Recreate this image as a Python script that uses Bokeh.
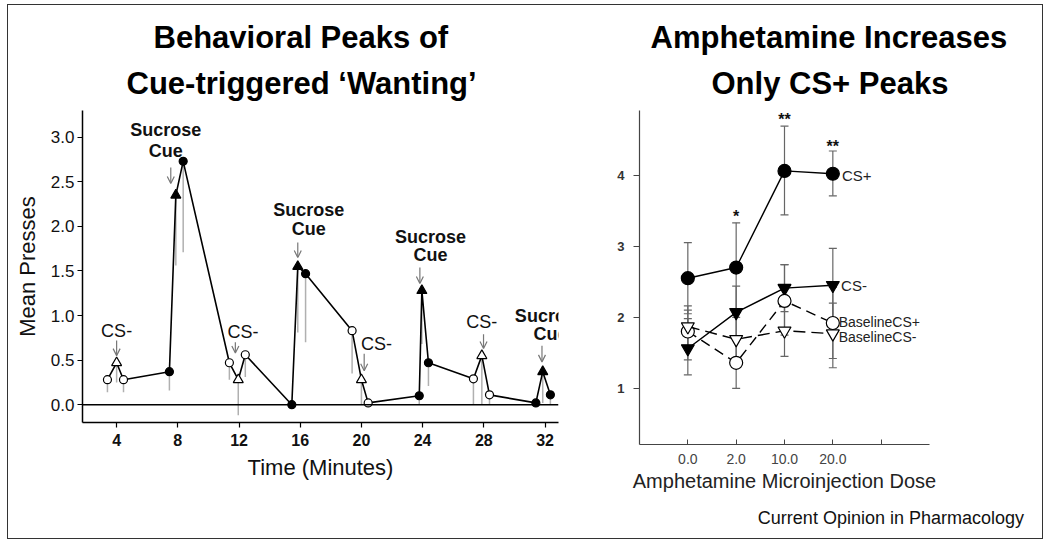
from bokeh.plotting import figure
from bokeh.models import (Label, Arrow, OpenHead, Span, FixedTicker, Whisker, TeeHead,
                          ColumnDataSource, Range1d, Title, Div)
from bokeh.layouts import row, column
from bokeh.embed import file_html
from bokeh.resources import INLINE
from bokeh.core.properties import field

FONT = "Liberation Sans"

# ---------------- Left panel data ----------------
times = [3.4, 4.0, 4.45, 7.45, 7.87, 8.35, 11.37, 11.95, 12.41, 15.45, 15.84, 16.35,
         19.39, 20.0, 20.44, 23.78, 23.95, 24.38, 27.32, 27.87, 28.37, 31.4, 31.85, 32.35]
presses = [0.28, 0.47, 0.28, 0.37, 2.35, 2.73, 0.47, 0.28, 0.56, 0.0, 1.55, 1.47,
           0.83, 0.28, 0.02, 0.10, 1.28, 0.47, 0.29, 0.55, 0.11, 0.02, 0.37, 0.11]
presses_err_low = [0.14, 0.25, 0.14, 0.16, 1.56, 1.71, 0.28, -0.12, 0.31, 0.0, 0.81, 0.70,
                   0.35, 0.0, 0.0, 0.0, 0.68, 0.21, 0.0, 0.0, 0.0, 0.0, 0.02, 0.0]
point_kind = ["o", "^o", "o", "c", "^", "c", "o", "^o", "o", "c", "^", "c",
              "o", "^o", "o", "c", "^", "c", "o", "^o", "o", "c", "^", "c"]
left_xticks = [4, 8, 12, 16, 20, 24, 28, 32]
left_yticks = [0.0, 0.5, 1.0, 1.5, 2.0, 2.5, 3.0]

# ---------------- Right panel data ----------------
doses = ["0.0", "2.0", "10.0", "20.0"]
cs_plus = [2.55, 2.70, 4.06, 4.02]
cs_plus_hi = [3.05, 3.33, 4.69, 4.34]
cs_plus_lo = [2.05, 2.07, 3.44, 3.71]
cs_minus = [1.56, 2.07, 2.41, 2.45]
cs_minus_hi = [2.16, 2.44, 2.74, 2.97]
cs_minus_lo = [1.40, 1.70, 2.08, 1.93]
base_plus = [1.80, 1.36, 2.23, 1.92]
base_plus_hi = [2.10, 1.72, 2.74, 2.42]
base_plus_lo = [1.19, 1.00, 1.45, 1.42]
base_minus = [1.87, 1.69, 1.81, 1.77]
base_minus_hi = [1.98, 2.00, 2.15, 2.20]
base_minus_lo = [1.60, 1.40, 1.75, 1.29]
right_yticks = [1, 2, 3, 4]


def add_title_lines(p, lines, offsets, standoff):
    # lines are given top-to-bottom; Bokeh stacks "above" items outward from the frame
    for i, (txt, off) in enumerate(reversed(list(zip(lines, offsets)))):
        p.add_layout(Title(text=txt, align="left", offset=off,
                           text_font=FONT, text_font_size="31px", text_font_style="bold",
                           text_color="black", standoff=standoff if i == 0 else 0), "above")


# ================= Left figure =================
p1 = figure(width=577, height=500, output_backend="svg", toolbar_location=None, title=None,
            x_range=Range1d(1.77, 32.88), y_range=Range1d(-0.2, 3.30),
            min_border_left=74, min_border_right=27, min_border_top=105, min_border_bottom=83)
p1.frame_align = False
p1.outline_line_color = None
p1.grid.visible = False

p1.xaxis.ticker = FixedTicker(ticks=left_xticks)
p1.yaxis.ticker = FixedTicker(ticks=left_yticks)
p1.yaxis.major_label_overrides = {t: f"{t:.1f}" for t in left_yticks}
for ax in (p1.xaxis[0], p1.yaxis[0]):
    ax.axis_line_color = "black"
    ax.axis_line_width = 1.5
    ax.major_tick_line_color = "black"
    ax.major_tick_line_width = 1.2
    ax.major_tick_in = 0
    ax.major_tick_out = 5
    ax.minor_tick_line_color = None
    ax.major_label_text_font = FONT
    ax.major_label_text_font_size = "17px"
    ax.major_label_text_color = "#111"
    ax.axis_label_text_font = FONT
    ax.axis_label_text_font_size = "22px"
    ax.axis_label_text_font_style = "normal"
    ax.axis_label_text_color = "#111"
p1.xaxis.major_label_text_font_style = "bold"
p1.xaxis.major_label_text_font_size = "16px"
p1.xaxis.major_label_standoff = 6
p1.xaxis.axis_label = "Time (Minutes)"
p1.xaxis.axis_label_standoff = 6
p1.yaxis.major_label_standoff = 3
p1.yaxis.axis_label = "Mean Presses"
p1.yaxis.axis_label_standoff = 8

p1.add_layout(Span(location=0, dimension="width", line_color="black", line_width=1.5))

kind_marker = {"o": "circle", "c": "circle", "^": "triangle", "^o": "triangle"}
kind_fill = {"o": "white", "c": "black", "^": "black", "^o": "white"}
kind_size = {"o": 8, "c": 8, "^": 10, "^o": 10}
src1 = ColumnDataSource(dict(
    t=times, y=presses, lo=presses_err_low,
    marker=[kind_marker[k] for k in point_kind],
    fill=[kind_fill[k] for k in point_kind],
    size=[kind_size[k] for k in point_kind]))
p1.segment(x0="t", y0="y", x1="t", y1="lo", source=src1, line_color="#b0b0b0", line_width=1.5)
p1.line("t", "y", source=src1, line_color="black", line_width=1.6)
p1.scatter("t", "y", source=src1, marker=field("marker"), fill_color="fill",
           size="size", line_color="black", line_width=1.2)


def cue_label(x, y, txt, bold, size="18px"):
    p1.add_layout(Label(x=x, y=y, text=txt, text_align="center", text_baseline="middle",
                        text_font=FONT, text_font_size=size,
                        text_font_style="bold" if bold else "normal", text_color="#111"))


def cue_arrow(x, y0, y1):
    p1.add_layout(Arrow(x_start=x, y_start=y0, x_end=x, y_end=y1,
                        line_color="#777", line_width=1.2,
                        end=OpenHead(size=7, line_color="#777", line_width=1.2)))


# CS- cues
for (tx, ty, ax, ay0, ay1) in [(4.0, 0.83, 4.0, 0.72, 0.55), (12.26, 0.81, 11.76, 0.70, 0.58),
                               (20.98, 0.68, 20.18, 0.57, 0.38), (27.87, 0.93, 27.98, 0.79, 0.63)]:
    cue_label(tx, ty, "CS-", False)
    cue_arrow(ax, ay0, ay1)
# Sucrose cues
for (tx, ty1, ty2, ax, ay0, ay1) in [(7.21, 3.08, 2.85, 7.54, 2.66, 2.48),
                                     (16.56, 2.18, 1.97, 15.84, 1.82, 1.65),
                                     (24.52, 1.88, 1.68, 23.82, 1.54, 1.36),
                                     (32.35, 1.00, 0.79, 31.8, 0.66, 0.48)]:
    cue_label(tx, ty1, "Sucrose", True)
    cue_label(tx, ty2, "Cue", True)
    cue_arrow(ax, ay0, ay1)

add_title_lines(p1, ["Behavioral Peaks of", "Cue-triggered \u2018Wanting\u2019"], [71, 44], 19)

# ================= Right figure =================
p2 = figure(width=457, height=500, output_backend="svg", toolbar_location=None, title=None,
            x_range=Range1d(0, 6), y_range=Range1d(0.21, 4.91),
            min_border_left=54, min_border_right=113, min_border_top=105, min_border_bottom=61)
p2.frame_align = False
p2.outline_line_color = None
p2.grid.visible = False

pos = [i + 1 for i in range(len(doses))]
p2.xaxis.ticker = FixedTicker(ticks=pos + [len(doses) + 1])
p2.xaxis.major_label_overrides = {**{p: d for p, d in zip(pos, doses)}, len(doses) + 1: ""}
p2.yaxis.ticker = FixedTicker(ticks=right_yticks)
for ax in (p2.xaxis[0], p2.yaxis[0]):
    ax.axis_line_color = "#444"
    ax.axis_line_width = 1.2
    ax.major_tick_line_color = "#444"
    ax.minor_tick_line_color = None
    ax.major_label_text_font = FONT
    ax.axis_label_text_font = FONT
    ax.axis_label_text_font_style = "normal"
    ax.axis_label_text_color = "#222"
p2.xaxis.major_tick_in = 5
p2.xaxis.major_tick_out = 0
p2.xaxis.major_label_text_font_size = "14px"
p2.xaxis.major_label_text_color = "#444"
p2.xaxis.major_label_standoff = 9
p2.xaxis.axis_label = "Amphetamine Microinjection Dose"
p2.xaxis.axis_label_text_font_size = "20px"
p2.xaxis.axis_label_standoff = 3
p2.yaxis.major_tick_in = 0
p2.yaxis.major_tick_out = 6
p2.yaxis.major_label_text_font_size = "13px"
p2.yaxis.major_label_text_font_style = "bold"
p2.yaxis.major_label_text_color = "#333"
p2.yaxis.major_label_standoff = 9

series = [
    ("CS+", cs_plus, cs_plus_hi, cs_plus_lo, "circle", "black", 13, "solid"),
    ("CS-", cs_minus, cs_minus_hi, cs_minus_lo, "inverted_triangle", "black", 13, "solid"),
    ("BaselineCS+", base_plus, base_plus_hi, base_plus_lo, "circle", "white", 13, "10 6"),
    ("BaselineCS-", base_minus, base_minus_hi, base_minus_lo, "inverted_triangle", "white", 13, "12 6"),
]
for name, ys, hi, lo, mk, fill, sz, dash in series:
    s = ColumnDataSource(dict(x=pos, y=ys, hi=hi, lo=lo))
    p2.add_layout(Whisker(source=s, base="x", upper="hi", lower="lo", line_color="#666", line_width=1.2,
                          upper_head=TeeHead(size=8, line_color="#666", line_width=1.2),
                          lower_head=TeeHead(size=8, line_color="#666", line_width=1.2)))
for name, ys, hi, lo, mk, fill, sz, dash in series:
    s = ColumnDataSource(dict(x=pos, y=ys))
    p2.line("x", "y", source=s, line_color="black", line_width=1.4, line_dash=dash)
    p2.scatter("x", "y", source=s, marker=mk, size=sz, fill_color=fill, line_color="black", line_width=1.2)

for name, xx, yy, sz in [("CS+", 4.19, 4.0, "15px"), ("CS-", 4.17, 2.45, "15px"),
                         ("BaselineCS+", 4.12, 1.94, "14px"), ("BaselineCS-", 4.12, 1.72, "14px")]:
    p2.add_layout(Label(x=xx, y=yy, text=name, text_align="left", text_baseline="middle",
                        text_font=FONT, text_font_size=sz, text_color="#222"))

for xx, yy, txt in [(2, 3.42, "*"), (3, 4.79, "**"), (4, 4.41, "**")]:
    p2.add_layout(Label(x=xx, y=yy, text=txt, text_align="center", text_baseline="middle",
                        text_font=FONT, text_font_size="16px", text_font_style="bold",
                        text_color="#111"))

add_title_lines(p2, ["Amphetamine Increases", "Only CS+ Peaks"], [11, 72], 19)

credit = Div(text="Current Opinion in Pharmacology", width=1034, height=33, margin=(0, 0, 0, 0),
             styles={"font-family": FONT, "font-size": "18px", "line-height": "26px",
                     "text-align": "right", "color": "#111", "padding-right": "18px",
                     "box-sizing": "border-box"})

layout = column(row(p1, p2), credit)
layout.styles = {"border": "1px solid #333", "margin-left": "7px", "margin-top": "4px"}

open("out.html", "w").write(file_html(layout, INLINE))
